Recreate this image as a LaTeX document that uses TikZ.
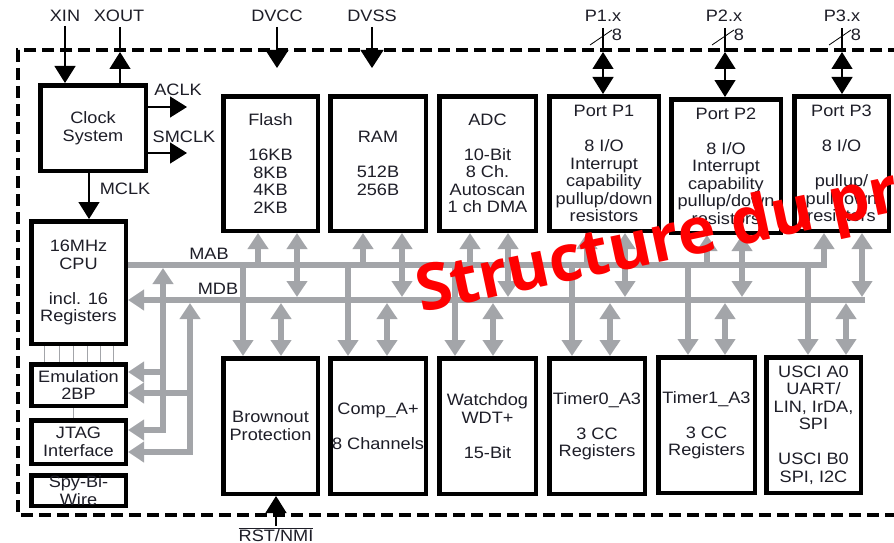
\documentclass[tikz,border=0pt]{standalone}
\usepackage{fontspec}
\setmainfont{Liberation Sans}[FakeStretch=1.1]
\newfontfamily\wmfont{Open Sans}
\usetikzlibrary{arrows.meta}
\definecolor{busgray}{RGB}{163,165,169}
\definecolor{txt}{RGB}{30,30,40}
\begin{document}
\begin{tikzpicture}[x=1pt,y=-1pt,
  tri/.tip={Triangle[width=20pt,length=16pt]},
  btri/.tip={Triangle[width=21pt,length=17pt]},
  blk/.style={draw=black,line width=4.5pt,fill=white,inner sep=0pt,align=center,text=txt,font=\fontsize{16.5}{17.5}\selectfont},
  lbl/.style={text=txt,font=\fontsize{16.5}{17.5}\selectfont,inner sep=0pt},
  bus/.style={draw=busgray,line width=5.5pt},
  sig/.style={draw=black,line width=1.3pt},
  chipborder/.style={draw=black,line width=3.5pt,dash pattern=on 12pt off 6pt},
  pinline/.style={draw=busgray,line width=0.9pt}
]
\useasboundingbox (0,0) rectangle (894,543);
\clip (0,0) rectangle (894,543);
\fill[white] (0,0) rectangle (894,543);

% chip border
\draw[chipborder] (900,50) -- (18,50) -- (18,515) -- (900,515);

% left column
\node[blk,minimum width=105.5pt,minimum height=85.5pt] (clock) at (93,128) {Clock\\System};
\node[blk,minimum width=94.5pt,minimum height=122.5pt] (cpu) at (78.5,282.5) {16MHz\\CPU\\[17.5pt]incl. 16\\Registers};
\node[blk,minimum width=94.5pt,minimum height=41.5pt] (emu) at (78.5,385) {Emulation\\2BP};
\node[blk,minimum width=94.5pt,minimum height=43.5pt] (jtag) at (78.5,442) {JTAG\\Interface};
\node[blk,minimum width=94.5pt,minimum height=30.5pt] (spy) at (78.5,490.5) {Spy-Bi-\\Wire};

% top row
\node[blk,minimum width=94.5pt,minimum height=134.5pt] (flash) at (270.5,163.5) {Flash\\[17.5pt]16KB\\8KB\\4KB\\2KB};
\node[blk,minimum width=95.5pt,minimum height=134.5pt] (ram) at (378,163.5) {RAM\\[17.5pt]512B\\256B};
\node[blk,minimum width=96.5pt,minimum height=134.5pt] (adc) at (487.5,163.5) {ADC\\[17.5pt]10-Bit\\8 Ch.\\Autoscan\\1 ch DMA};
\node[blk,minimum width=109.5pt,minimum height=134.5pt] (p1) at (604,163.5) {Port P1\\[17.5pt]8 I/O\\Interrupt\\capability\\pullup/down\\resistors};
\node[blk,minimum width=109.5pt,minimum height=133.5pt] (p2) at (726,166) {Port P2\\[17.5pt]8 I/O\\Interrupt\\capability\\pullup/down\\resistors};
\node[blk,minimum width=94.5pt,minimum height=134.5pt] (p3) at (841.5,163.5) {Port P3\\[17.5pt]8 I/O\\[17.5pt]pullup/\\pulldown\\resistors};

% bottom row
\node[blk,minimum width=94.5pt,minimum height=135.5pt] (bor) at (270.5,426) {Brownout\\Protection};
\node[blk,minimum width=95.5pt,minimum height=135.5pt] (comp) at (378,426) {Comp\_A+\\[17.5pt]8 Channels};
\node[blk,minimum width=96.5pt,minimum height=135.5pt] (wdt) at (487.5,426) {Watchdog\\WDT+\\[17.5pt]15-Bit};
\node[blk,minimum width=95.5pt,minimum height=135.5pt] (t0) at (597,426) {Timer0\_A3\\[17.5pt]3 CC\\Registers};
\node[blk,minimum width=96.5pt,minimum height=135.5pt] (t1) at (706.5,425) {Timer1\_A3\\[17.5pt]3 CC\\Registers};
\node[blk,minimum width=94.5pt,minimum height=135.5pt] (usci) at (813.5,425) {USCI A0\\UART/\\LIN, IrDA,\\SPI\\[17.5pt]USCI B0\\SPI, I2C};

% thin links cpu - emulation - jtag
\foreach \x in {44,59,73,87,100,113}
  \draw[pinline] (\x,0 |- cpu.south) -- (\x,0 |- emu.north);
\draw[pinline] (73,0 |- emu.south) -- (73,0 |- jtag.north);

% buses
\draw[bus,-{tri}] (cpu.east |- 0,265) -- (824,265) -- (824,0 |- p3.south);
\draw[bus,-{tri}] (865,300) -- (cpu.east |- 0,300);
\draw[bus,{tri}-{tri}] (163,268) -- (163,430) -- (jtag.east |- 0,430);
\draw[bus,-{tri}] (163,372) -- (emu.east |- 0,372);
\draw[bus,{tri}-{tri}] (190,303) -- (190,452) -- (jtag.east |- 0,452);
\draw[bus,-{tri}] (190,393) -- (emu.east |- 0,393);

\foreach \xl/\xr/\b in {258/297/flash,363/402/ram,470/508/adc,587/625/p1,707/742/p2}{
  \draw[bus,-{tri}] (\xl,265) -- (\xl,0 |- \b.south);
  \draw[bus,{tri}-{tri}] (\xr,297) -- (\xr,0 |- \b.south);
}
\draw[bus,{tri}-{tri}] (862,297) -- (862,0 |- p3.south);
\foreach \xl/\xr/\b in {243/281/bor,348/387/comp,455/493/wdt,572/610/t0,688/725/t1,808/846/usci}{
  \draw[bus,-{tri}] (\xl,265) -- (\xl,0 |- \b.north);
  \draw[bus,{tri}-{tri}] (\xr,303) -- (\xr,0 |- \b.north);
}

% labels
\node[lbl] (xin) at (65,16) {XIN};
\node[lbl] (xout) at (119,16) {XOUT};
\node[lbl] (dvcc) at (277,16) {DVCC};
\node[lbl] (dvss) at (372,16) {DVSS};
\node[lbl] (p1x) at (603,16) {P1.x};
\node[lbl] (p2x) at (724,16) {P2.x};
\node[lbl] (p3x) at (842,16) {P3.x};
\node[lbl] (aclk) at (178,90) {ACLK};
\node[lbl] (smclk) at (184,137) {SMCLK};
\node[lbl] (mclk) at (125,189) {MCLK};
\node[lbl] (mab) at (209,254) {MAB};
\node[lbl] (mdb) at (218,289) {MDB};
\node[lbl] (rst) at (276,535) {$\overline{\hbox{RST/NMI}}$};

% black signals
\draw[sig,-{btri}] (65,0 |- xin.south) ++(0,4) -- (65,0 |- clock.north);
\draw[sig,-{btri}] (120,0 |- clock.north) -- (120,52);
\draw[sig] (120,52) -- (120,27);
\draw[sig,-{btri}] (clock.east |- 0,107) -- (187,107);
\draw[sig,-{btri}] (clock.east |- 0,153) -- (187,153);
\draw[sig,-{btri}] (89,0 |- clock.south) -- (89,0 |- cpu.north);
\draw[sig,-{Triangle[width=23pt,length=18pt]}] (277,27) -- (277,68);
\draw[sig,-{Triangle[width=23pt,length=18pt]}] (372,27) -- (372,68);
\draw[sig,-{btri}] (276,526) -- (276,0 |- bor.south);
\foreach \x/\b/\n in {603/p1/na,725/p2/nb,842/p3/nc}{
  \draw[sig] (\x,28) -- (\x,52);
  \draw[sig,{btri}-{btri}] (\x,52) -- (\x,0 |- \b.north);
  \draw[black,line width=0.8pt] (\x-13,45) -- (\x+9,30);
  \node[lbl] (\n) at (\x+14,35) {8};
}

% watermark
\node[text=red,font=\wmfont\bfseries\fontsize{64.5}{64.5}\selectfont,rotate=12,anchor=base west,inner sep=0pt] (wm) at (421,313) {Structure du pro};
\end{tikzpicture}
\end{document}
